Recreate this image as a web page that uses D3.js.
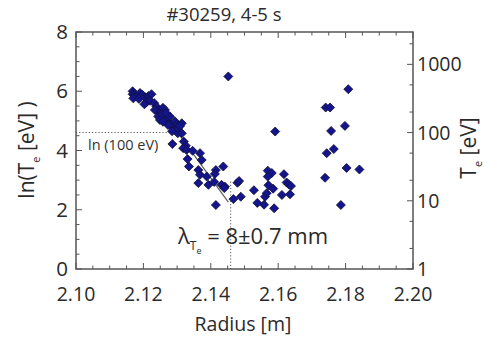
<!DOCTYPE html>
<html><head><meta charset="utf-8">
<script src="https://cdn.jsdelivr.net/npm/d3@7"></script>
<style>body{margin:0;background:#fff}svg{display:block}text{font-family:"Open Sans",sans-serif;fill:#2a2a2a}</style>
</head><body><svg id="c" width="484" height="345"></svg>
<script>
const title = "#30259, 4-5 s";
const xTicks = [2.10, 2.12, 2.14, 2.16, 2.18, 2.20];
const yTicks = [0, 2, 4, 6, 8];
const rightTicks = [1, 10, 100, 1000];
const rightMinor = [2, 5, 20, 50, 200, 500, 2000];
const radius = [
2.1168,2.1168,2.1175,2.1181,2.1170,2.1190,2.1197,2.1187,2.1205,2.1215,2.1224,2.1210,2.1203,2.1220,2.1232,2.1239,2.1244,2.1234,2.1249,2.1254,2.1264,2.1258,2.1244,2.1259,2.1269,2.1279,2.1294,2.1299,2.1284,2.1292,2.1302,2.1314,2.1279,2.1273,2.1285,2.1255,2.1303,2.1309,2.1249,2.1267,2.1258,
2.1286,2.1314,2.1320,2.1326,2.1318,2.1328,2.1346,2.1368,2.1373,2.1331,2.1335,2.1363,2.1368,2.1363,2.1388,2.1393,2.1415,2.1412,2.1437,2.1410,2.1432,2.1442,2.1440,2.1415,
2.1452,2.1479,2.1484,2.1467,2.1489,
2.1528,2.1538,2.1558,2.1561,2.1566,2.1569,2.1581,2.1569,2.1571,2.1585,2.1588,2.1611,2.1617,2.1625,2.1631,2.1638,2.1635,2.1591,
2.1739,2.1741,2.1754,2.1757,2.1744,2.1765,2.1798,2.1808,2.1803,2.1841,2.1786];
const lnTe = [
6.00,5.90,5.88,5.83,5.76,5.94,5.88,5.74,5.80,5.84,5.90,5.64,5.56,5.68,5.60,5.48,5.37,5.37,5.26,5.31,5.37,5.44,5.15,5.09,5.01,4.92,4.98,4.86,4.81,4.70,4.58,4.92,5.15,4.86,4.65,5.24,4.76,4.83,5.03,5.27,4.97,
4.22,4.58,4.30,4.16,4.08,4.02,3.99,3.91,3.68,3.71,3.46,3.34,3.18,2.90,3.12,2.84,3.34,3.21,3.46,2.94,2.84,2.78,2.73,2.16,
6.50,2.91,2.97,2.36,2.44,
2.66,2.23,2.17,2.44,2.56,3.32,3.24,3.12,2.83,2.71,2.05,2.50,3.20,2.92,2.86,2.80,2.52,4.64,
3.08,5.45,5.45,4.66,3.91,4.05,4.83,6.07,3.41,3.36,2.16];
const fitR = [2.1270, 2.1452];
const fitLn = [5.10, 2.26];
const refLn = Math.log(100);
const lambdaR = 2.1459;

const svg = d3.select("#c");
const L=76,R=413,T=32,B=269;
const x = d3.scaleLinear().domain([2.10,2.20]).range([L,R]);
const y = d3.scaleLinear().domain([0,8]).range([B,T]);
const yr = d3.scaleLog().domain([1,Math.exp(8)]).range([B,T]);
const axCol="#555";

svg.append("rect").attr("x",L).attr("y",T).attr("width",R-L).attr("height",B-T)
  .attr("fill","none").attr("stroke",axCol).attr("stroke-width",1.5);

const xMinor = d3.range(2.10,2.2001,0.005);
const yMinor = d3.range(0,8.001,0.5);
const tg = svg.append("g").attr("stroke",axCol).attr("stroke-width",1);
xMinor.forEach(v=>{
  const isMaj = Math.abs(v*50-Math.round(v*50))<1e-6;
  const len = isMaj?6:3.5;
  tg.append("line").attr("x1",x(v)).attr("x2",x(v)).attr("y1",B).attr("y2",B-len);
  tg.append("line").attr("x1",x(v)).attr("x2",x(v)).attr("y1",T).attr("y2",T+len);
});
yMinor.forEach(v=>{
  const isMaj = Math.abs(v/2-Math.round(v/2))<1e-6;
  const len = isMaj?6:3.5;
  tg.append("line").attr("x1",L).attr("x2",L+len).attr("y1",y(v)).attr("y2",y(v));
});
rightTicks.concat(rightMinor).forEach(v=>{
  const len = rightTicks.includes(v)?6:3.5;
  tg.append("line").attr("x1",R).attr("x2",R-len).attr("y1",yr(v)).attr("y2",yr(v));
});

svg.append("g").selectAll("text").data(xTicks).join("text")
  .attr("x",d=>x(d)).attr("y",301).attr("text-anchor","middle").attr("font-size",19.5)
  .text(d=>d3.format(".2f")(d));
svg.append("g").selectAll("text").data(yTicks).join("text")
  .attr("x",68).attr("y",d=>y(d)+7).attr("text-anchor","end").attr("font-size",20.5)
  .text(d=>d);
svg.append("g").selectAll("text").data(rightTicks).join("text")
  .attr("x",417).attr("y",d=>yr(d)+7).attr("text-anchor","start").attr("font-size",19.5)
  .text(d=>d);

svg.append("text").attr("x",224).attr("y",21).attr("text-anchor","middle").attr("font-size",18.5).text(title);
svg.append("text").attr("x",243).attr("y",331).attr("text-anchor","middle").attr("font-size",19.5).text("Radius [m]");
const yl = svg.append("text").attr("transform","translate(34,150) rotate(-90)").attr("text-anchor","middle").attr("font-size",21);
yl.append("tspan").text("ln(T");
yl.append("tspan").attr("font-size",11).attr("dy",6).text("e");
yl.append("tspan").attr("dy",-6).text(" [eV] )");
const rl = svg.append("text").attr("transform","translate(476,148) rotate(-90)").attr("text-anchor","middle").attr("font-size",21);
rl.append("tspan").text("T");
rl.append("tspan").attr("font-size",11).attr("dy",6).text("e");
rl.append("tspan").attr("dy",-6).text(" [eV]");

svg.append("line").attr("x1",L).attr("x2",168).attr("y1",y(refLn)).attr("y2",y(refLn))
  .attr("stroke","#555").attr("stroke-width",1).attr("stroke-dasharray","1.2,2");
svg.append("line").attr("x1",x(lambdaR)).attr("x2",x(lambdaR)).attr("y1",y(2.95)).attr("y2",B)
  .attr("stroke","#555").attr("stroke-width",1).attr("stroke-dasharray","1.2,2");
svg.append("text").attr("x",88).attr("y",150).attr("font-size",14.5).style("fill","#333").text("ln (100 eV)");

svg.append("line").attr("x1",x(fitR[0])).attr("x2",x(fitR[1])).attr("y1",y(fitLn[0])).attr("y2",y(fitLn[1]))
  .attr("stroke","#666").attr("stroke-width",1.3);

const pts = radius.map((r,i)=>[r,lnTe[i]]);
const s=4.5;
svg.append("g").selectAll("path").data(pts).join("path")
  .attr("d",d=>{const cx=x(d[0]),cy=y(d[1]);return `M${cx},${cy-s}L${cx+s},${cy}L${cx},${cy+s}L${cx-s},${cy}Z`;})
  .attr("fill","#14148c").attr("stroke","#111133").attr("stroke-width",0.8);

const lt = svg.append("text").attr("x",178).attr("y",244).attr("font-size",22);
lt.append("tspan").text("λ");
lt.append("tspan").attr("font-size",12).attr("dy",6).text("T");
lt.append("tspan").attr("font-size",9).attr("dy",4).text("e");
lt.append("tspan").attr("dy",-10).text(" = 8±0.7 mm");
</script></body></html>
